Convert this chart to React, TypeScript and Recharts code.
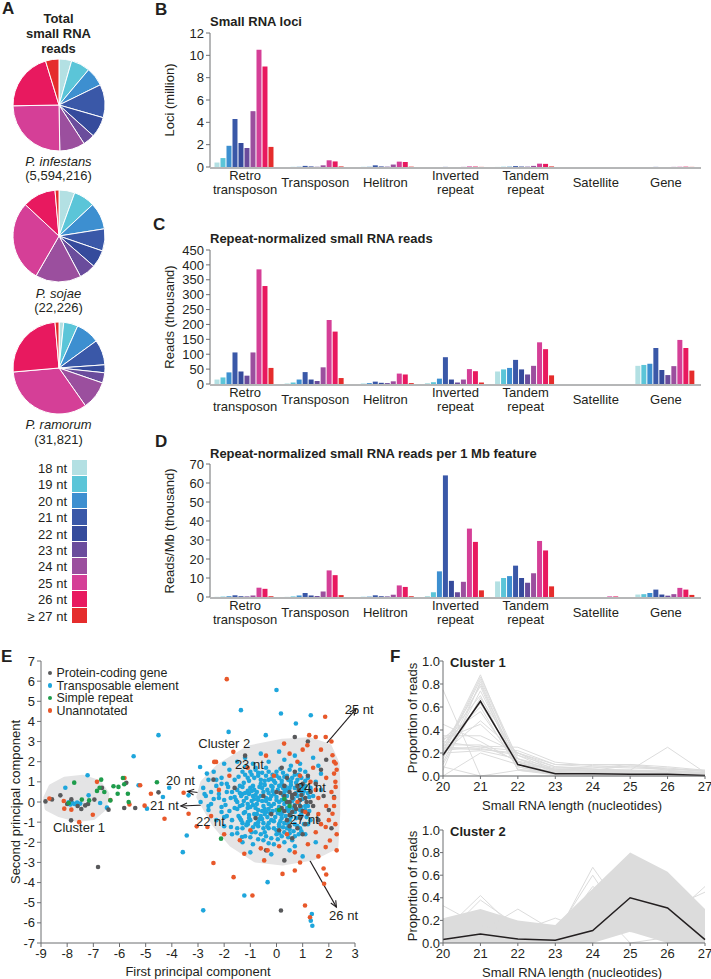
import React from 'react';
import {
  BarChart,
  Bar,
  XAxis,
  YAxis,
  PieChart,
  Pie,
  Cell,
  ScatterChart,
  Scatter,
  ReferenceLine,
  Line,
  ComposedChart,
  Area,
} from 'recharts';

const FONT = '"Liberation Sans", Arial, Helvetica, sans-serif';
const INK = '#231f20';
const AXIS = '#6d6e71';

// small RNA length classes, shared by A-D
const lengthLabels = ['18 nt', '19 nt', '20 nt', '21 nt', '22 nt', '23 nt', '24 nt', '25 nt', '26 nt', '≥ 27 nt'];
const lengthColors = ['#b3e0e3', '#5bc5d8', '#3d8fd0', '#3a58a8', '#354b9c', '#6a4c9c', '#9b4f9e', '#d53f97', '#e8195f', '#e52c2c'];

// A: share of total reads per length (18 .. >=27 nt)
const infestansShare = [16, 24, 24, 42, 26, 15, 32, 90, 74, 17];
const sojaeShare = [20, 27, 34, 28, 22, 21, 58, 103, 42, 5];
const ramorumShare = [6, 18, 30, 32, 10, 13, 36, 120, 90, 5];

// B-D: genomic features, one row per feature, one value per length class
const featureLabels = ['Retro\ntransposon', 'Transposon', 'Helitron', 'Inverted\nrepeat', 'Tandem\nrepeat', 'Satellite', 'Gene'];
const edgeTicks = [0, 1, 2, 3, 4, 5, 6, 7];

const lociMillion = [
  [0.4, 0.8, 1.9, 4.3, 2.15, 1.7, 5.0, 10.5, 9.0, 1.8],
  [0, 0.01, 0.02, 0.1, 0.05, 0.02, 0.15, 0.6, 0.5, 0.05],
  [0, 0.01, 0.02, 0.15, 0.05, 0.03, 0.22, 0.48, 0.45, 0.03],
  [0, 0, 0, 0.01, 0, 0, 0.01, 0.05, 0.04, 0.01],
  [0.01, 0.02, 0.03, 0.08, 0.04, 0.03, 0.1, 0.3, 0.28, 0.05],
  [0, 0, 0, 0, 0, 0, 0, 0, 0, 0],
  [0, 0, 0, 0.01, 0, 0, 0.01, 0.02, 0.03, 0.01],
];
const lociTicks = [0, 2, 4, 6, 8, 10, 12];

const readsThousand = [
  [15, 22, 39, 106, 42, 28, 106, 385, 329, 54],
  [2, 5, 15, 40, 15, 10, 56, 215, 176, 20],
  [0, 1, 3, 8, 4, 3, 9, 35, 32, 3],
  [3, 6, 18, 90, 15, 5, 15, 50, 43, 5],
  [42, 49, 54, 81, 49, 32, 61, 140, 117, 29],
  [0, 0, 0, 0, 0, 0, 0, 0, 0, 0],
  [61, 64, 68, 121, 47, 30, 60, 148, 121, 45],
];
const readsTicks = [0, 50, 100, 150, 200, 250, 300, 350, 400, 450];

const readsPerMb = [
  [0.1, 0.2, 0.4, 0.9, 0.4, 0.3, 0.8, 4.9, 4.3, 0.4],
  [0.1, 0.3, 0.8, 2.1, 0.8, 0.5, 2.9, 14, 11.5, 1.0],
  [0, 0.1, 0.2, 0.9, 0.4, 0.3, 1.2, 6.1, 5.3, 0.4],
  [0.5, 2.5, 13.5, 64, 8.5, 2.5, 8, 36, 29, 3.5],
  [8.2, 10, 11, 16.5, 10, 7.5, 12.5, 29.5, 24.5, 5.6],
  [0, 0, 0, 0, 0, 0, 0, 0.3, 0.3, 0],
  [1.3, 1.5, 2.1, 3.9, 1.3, 0.7, 1.5, 4.8, 3.9, 1.1],
];
const perMbTicks = [0, 10, 20, 30, 40, 50, 60, 70];

// E: principal component scores [PC1, PC2]
const pcXTicks = [-9, -8, -7, -6, -5, -4, -3, -2, -1, 0, 1, 2, 3];
const pcYTicks = [-7, -6, -5, -4, -3, -2, -1, 0, 1, 2, 3, 4, 5, 6, 7];

const transposable: [number, number][] = [
  [-8.07, 0.71], [-7.95, -0.02], [-7.88, -0.12], [-7.8, -0.05], [-7.72, -0.1], [-7.62, -0.03], [-7.5, -0.08],
  [-7.22, 1.33], [-7.18, 0.33], [-6.74, -0.05], [-6.48, -0.28], [-5.27, 0.83], [-5.46, 2.27], [-4.95, -0.33],
  [-4.51, 3.32], [-4.34, 0.25], [-4.1, 0.71], [-3.43, -1.66], [-3.58, -2.49], [-2.8, -5.38], [-2.92, 1.74],
  [-2.66, 1.41], [-3.36, 0.33],
  [0, 5.56], [-1.36, 4.56], [0.17, 4.39], [-1.83, 3.48], [-0.41, 3.32], [1.31, 4.31], [0.74, 3.9],
  [-0.34, -3.98], [-1.23, -4.64], [1.37, -6.14], [1.35, -5.56], [1.31, -5.89], [-1.32, -1.74], [-1.74, -1.24],
  [-0.6, 2.4], [0.1, 2.5], [0.7, 2.3], [1.4, 2.2], [-1.2, 2.2],
  [-2.0, 1.9], [-1.5, 2.0], [-0.9, 1.9], [-0.3, 2.0], [0.3, 2.1], [0.9, 1.9], [1.6, 1.8],
  [-2.4, 1.5], [-1.8, 1.6], [-1.3, 1.5], [-0.8, 1.6], [-0.4, 1.7], [0.0, 1.5], [0.5, 1.6], [1.1, 1.5], [1.7, 1.4],
  [-2.6, 1.1], [-2.1, 1.2], [-1.6, 1.1], [-1.1, 1.2], [-0.7, 1.3], [-0.3, 1.1], [0.1, 1.2], [0.4, 1.3], [0.8, 1.1], [1.2, 1.2], [1.5, 1.0],
  [-2.8, 0.7], [-2.3, 0.8], [-1.9, 0.9], [-1.4, 0.8], [-1.0, 0.7], [-0.6, 0.9], [-0.2, 0.8], [0.2, 0.9], [0.5, 0.7], [0.9, 0.8], [1.3, 0.7], [1.7, 0.6],
  [-2.7, 0.3], [-2.2, 0.4], [-1.7, 0.5], [-1.3, 0.4], [-0.9, 0.3], [-0.5, 0.5], [-0.1, 0.4], [0.3, 0.5], [0.6, 0.3], [1.0, 0.4], [1.4, 0.3], [-0.7, 0.2], [0.0, 0.1],
  [-2.9, 0.0], [-2.5, -0.1], [-2.0, 0.1], [-1.5, 0.0], [-1.1, -0.1], [-0.7, 0.1], [-0.3, -0.1], [0.1, 0.0], [0.5, -0.1], [0.9, 0.1], [1.2, -0.2], [-0.4, 0.2], [0.3, 0.2],
  [-2.6, -0.4], [-2.1, -0.5], [-1.6, -0.3], [-1.2, -0.5], [-0.8, -0.3], [-0.4, -0.5], [0.0, -0.4], [0.4, -0.3], [0.7, -0.5], [1.1, -0.4], [-0.2, -0.2], [0.2, -0.6],
  [-2.3, -0.9], [-1.9, -0.7], [-1.4, -0.8], [-1.0, -0.9], [-0.6, -0.7], [-0.2, -0.9], [0.2, -0.8], [0.5, -0.9], [0.9, -0.7], [1.3, -0.9],
  [-2.0, -1.2], [-1.5, -1.3], [-1.1, -1.1], [-0.7, -1.2], [-0.3, -1.3], [0.1, -1.1], [0.4, -1.3], [0.8, -1.2], [1.2, -1.1],
  [-1.7, -1.6], [-1.2, -1.7], [-0.8, -1.5], [-0.4, -1.7], [0.0, -1.6], [0.3, -1.5], [0.7, -1.7], [1.1, -1.6],
  [-1.3, -2.0], [-0.9, -2.1], [-0.5, -1.9], [-0.1, -2.1], [0.3, -2.0], [0.7, -2.2], [1.5, -2.0],
  [-1.0, -2.5], [-0.2, -2.6], [0.5, -2.4], [1.0, -2.7],
  [-0.95, 0.55], [-0.75, -0.6], [-0.55, 0.05], [-0.35, -0.75], [-0.15, 0.55], [0.05, -0.55], [0.25, 0.35], [0.45, -0.45],
  [0.65, 0.15], [0.85, -0.05], [-0.85, 0.15], [-0.65, 0.75], [-0.45, -0.35], [-0.25, 0.15], [-0.05, 0.95], [0.15, -0.95],
  [0.35, 0.75], [0.55, -0.75], [0.75, 0.95], [-1.05, -0.65], [-1.2, 0.45], [-1.4, -0.2], [-1.6, 0.25], [-1.8, -0.45],
  [1.05, 0.65], [1.25, 0.25], [-0.15, 1.35], [0.25, 1.45], [-0.55, 1.45], [0.6, 1.2], [-1.0, 1.5], [0.0, -1.4],
  [-0.5, -1.05], [0.5, -1.55], [-1.3, -1.05], [0.95, -1.45], [-2.4, 0.15], [-2.1, -0.25], [-1.9, 0.5], [-2.3, 1.1],
  [-1.45, 1.25], [-1.25, 0.95], [-1.05, 1.05], [-0.85, 1.2], [-0.6, 1.1], [-0.4, 1.3], [-0.2, 1.15], [0.0, 1.3],
  [0.2, 1.05], [0.45, 1.1], [0.7, 1.35], [0.95, 1.2], [-1.5, 0.6], [-1.3, 0.75], [-1.1, 0.55], [-0.9, 0.8],
  [-0.75, 0.5], [-0.55, 0.7], [-0.35, 0.6], [-0.15, 0.75], [0.05, 0.6], [0.25, 0.7], [0.45, 0.55], [0.7, 0.7],
  [0.9, 0.55], [1.1, 0.8], [-1.55, 0.1], [-1.35, 0.3], [-1.15, 0.2], [-0.95, 0.05], [-0.8, 0.35], [-0.6, 0.3],
  [-0.4, 0.05], [-0.2, 0.3], [0.0, 0.25], [0.2, 0.1], [0.4, 0.3], [0.6, 0.05], [0.8, 0.3], [1.0, 0.15], [1.2, 0.45],
  [-1.5, -0.35], [-1.3, -0.15], [-1.1, -0.3], [-0.9, -0.15], [-0.7, -0.4], [-0.5, -0.2], [-0.3, -0.35], [-0.1, -0.1],
  [0.1, -0.25], [0.3, -0.1], [0.5, -0.3], [0.7, -0.15], [0.9, -0.4], [1.1, -0.2], [-1.45, -0.7], [-1.25, -0.55],
  [-1.05, -0.8], [-0.85, -0.6], [-0.65, -0.85], [-0.45, -0.6], [-0.25, -0.55], [-0.05, -0.75], [0.15, -0.6],
  [0.35, -0.7], [0.55, -0.55], [0.75, -0.8], [0.95, -0.6], [1.15, -0.75], [-1.3, -1.3], [-1.1, -1.0], [-0.9, -1.25],
  [-0.7, -1.0], [-0.5, -1.3], [-0.3, -1.05], [-0.1, -1.3], [0.1, -1.2], [0.3, -1.05], [0.5, -1.35], [0.7, -1.1],
  [0.9, -1.3], [-1.0, -1.75], [-0.6, -1.6], [-0.2, -1.8], [0.2, -1.7], [0.6, -1.9], [0.85, -1.6], [-0.8, 1.7],
  [-0.3, 1.5], [0.15, 1.65], [0.55, 1.8], [-1.2, 1.75], [0.9, 1.6], [-1.75, 0.2], [-1.95, -0.15], [-2.2, 0.2],
  [-2.5, 0.5], [-2.6, -0.2], [-2.75, 0.4], [-1.7, -0.9], [-2.0, -0.75], [-1.85, 0.75], [-2.1, 0.9],
  [-1.2, 1.35], [-0.95, 1.35], [-0.7, 1.45], [-0.45, 1.05], [-0.1, 1.05], [0.3, 1.25], [0.55, 1.0], [0.85, 1.35],
  [1.1, 1.05], [-1.4, 0.45], [-1.05, 0.4], [-0.85, 0.6], [-0.45, 0.85], [-0.3, 0.45], [0.1, 0.8], [0.35, 0.6],
  [0.55, 0.85], [0.75, 0.45], [1.05, 0.55], [1.3, 0.55], [-1.25, 0.05], [-1.0, -0.25], [-0.75, -0.1], [-0.55, -0.45],
  [-0.15, -0.45], [0.2, -0.45], [0.35, 0.05], [0.65, -0.3], [0.95, -0.25], [1.25, -0.45], [-1.35, -0.9], [-1.15, -1.15],
  [-0.8, -1.1], [-0.55, -0.85], [-0.35, -1.2], [-0.1, -0.95], [0.25, -1.25], [0.45, -1.1], [0.65, -1.45], [1.05, -1.1],
  [-1.5, -1.55], [-0.95, -1.5], [-0.45, -1.5], [0.1, -1.55], [0.45, -1.75], [-0.7, -1.85], [-0.3, -2.05], [0.05, -1.85],
];

const proteinCoding: [number, number][] = [
  [-8.83, 0.03], [-8.58, 0.13], [-8.26, 0.33], [-7.84, 0.13], [-7.85, -0.91], [-7.46, -0.35], [-7.31, -0.17],
  [-6.96, 0.12], [-6.67, 0.7], [-6.42, -0.38], [-6.82, -3.23], [-5.82, -0.3], [-5.74, 0.95], [-5.4, -0.3],
  [-4.51, 0.48], [-2.41, 1.11], [-8.0, -0.1], [-7.6, -0.2], [-7.2, -0.1],
  [0.3, 0.3], [0.5, 0.0], [0.7, 0.4], [0.9, -0.2], [1.1, 0.2], [0.6, -0.5], [0.8, 0.8], [1.2, -0.6], [0.4, -0.9],
  [1.0, 0.9], [1.3, 0.5], [0.2, -0.3], [0.6, 0.2], [0.9, -0.8], [1.4, -0.2], [0.3, 0.8], [0.7, -0.2], [1.1, -1.1],
  [0.5, 0.5], [0.8, -1.3], [1.5, 0.9], [1.2, 1.3], [0.4, 1.2], [-0.2, -0.6], [-0.5, 0.3], [0.1, -1.4], [0.7, 1.5],
  [1.6, -0.9], [1.0, -1.6], [-0.8, -0.8], [0.6, -1.8], [0.2, 1.7], [1.8, 0.3], [2.0, -0.4], [1.7, 1.6], [-1.6, 0.7],
  [0.0, 0.5], [0.9, 0.1], [0.5, -1.2], [1.3, 0.0], [0.4, 0.0], [0.6, 0.35], [0.75, -0.35], [0.5, -0.65],
  [0.95, 0.35], [1.0, -0.45], [0.3, -0.45], [0.15, 0.45], [0.85, 0.6], [1.15, 0.0],
  [0.7, 3.23], [0.17, -5.39], [2.2, 0.25], [1.9, 2.1], [-0.4, -2.4], [1.2, 3.0], [-1.2, 2.3], [2.1, -1.3], [0.3, -2.9],
];

const simpleRepeat: [number, number][] = [
  [-7.73, 0.96], [-7.94, -0.05], [-7.44, 0.12], [-7.16, 0.08], [-6.86, 0.55], [-6.76, 0.71], [-6.7, 1.11],
  [-6.58, 0.5], [-6.23, 0.78], [-6.07, 0.41], [-6.04, 0.75], [-5.87, 1.19], [-5.82, 0.88], [-5.68, 0.41],
  [-5.65, 0.0], [-4.57, 0.98], [-6.35, 0.08], [-2.12, -1.82], [0.1, -0.4], [0.3, 0.15], [0.5, -0.2],
];

const unannotated: [number, number][] = [
  [-8.68, 0.17], [-8.13, 0.05], [-8.11, -0.33], [-7.84, -0.38], [-7.54, -1.0], [-7.02, -0.63], [-6.86, 1.0],
  [-6.35, 0.1], [-5.81, 1.19], [-5.62, -0.12], [-5.21, 0.83], [-5.04, -0.18], [-4.8, 0.41], [-4.28, -0.83],
  [-3.55, 0.46], [-3.36, -0.58], [-3.05, -1.21], [-2.41, -3.03], [-2.31, 1.99], [-2.64, -1.24],
  [-1.9, 6.1], [1.86, 4.23], [1.88, 3.23], [1.25, 3.32], [2.14, 2.32], [2.26, 1.91], [2.2, 1.41], [2.26, 0.75],
  [2.14, -0.58], [1.88, -1.24], [2.04, -1.91], [1.88, -2.24], [1.82, -4.06], [1.28, -5.72], [1.09, -5.14],
  [0.7, -3.4], [0.23, -3.57], [-0.92, -4.64], [-1.64, -3.73], [-1.65, 2.49], [-2.38, 1.99],
  [-0.47, -2.9], [-1.23, -2.57], [-0.34, -2.4], [0.29, 2.9], [1.18, 2.82], [1.5, 3.23],
  [0.8, 2.0], [1.4, 1.7], [1.9, 1.2], [2.2, 0.2], [1.6, 0.2], [1.9, -0.2], [2.0, -0.9], [1.5, -1.5], [1.2, -2.1],
  [0.7, -2.5], [0.1, -2.2], [-0.6, -2.3], [-1.4, -1.9], [-2.0, -1.6], [-2.5, -0.7], [-2.2, 0.6], [-1.8, 1.3],
  [-1.1, 1.7], [-0.4, 2.3], [0.5, 2.4], [1.0, 2.6], [1.7, 2.6], [2.3, 1.6], [2.3, -1.6], [2.3, -2.4], [1.6, -2.7],
  [0.9, -3.0], [1.8, -3.3], [1.9, -3.6], [2.1, 3.0], [1.1, -0.5], [0.9, 1.3], [1.6, -0.6], [1.3, 1.0], [0.4, -1.6],
  [-0.1, 1.3], [-1.0, -1.4], [2.1, 0.5], [1.7, -1.1], [1.5, 0.6], [0.8, 0.0], [2.25, 1.0], [2.2, -0.2], [2.25, -1.1],
  [2.2, 2.0],
];

// gray hulls behind the two clusters (outline in PC space)
const cluster1Hull: [number, number][] = [
  [-8.8, 0.2], [-8.6, 0.75], [-8.1, 1.1], [-7.4, 1.2], [-6.8, 0.95], [-6.5, 0.4], [-6.6, -0.3],
  [-7.0, -0.75], [-7.6, -0.85], [-8.3, -0.6], [-8.75, -0.3],
];
const cluster2Hull: [number, number][] = [
  [-2.95, 0.25], [-2.8, 0.95], [-2.2, 1.75], [-1.05, 2.66], [0.23, 2.99], [1.25, 3.07], [2.0, 2.75], [2.3, 1.9],
  [2.32, 1.0], [2.32, -0.6], [2.25, -2.2], [1.4, -2.75], [0.23, -3.0], [-0.8, -2.85], [-1.7, -2.1], [-2.35, -1.1],
];

// loading vectors (tips) and their labels
const loadings = [
  { name: '20 nt', tip: [-3.4, 0.53] },
  { name: '21 nt', tip: [-3.66, -0.2] },
  { name: '22 nt', tip: [-2.6, -0.55] },
  { name: '23 nt', tip: [-1.11, 1.54] },
  { name: '24 nt', tip: [0.67, 0.58] },
  { name: '25 nt', tip: [3.04, 4.62] },
  { name: '26 nt', tip: [2.29, -5.22] },
  { name: '27 nt', tip: [0.38, -0.66] },
];
const pcTexts = [
  { x: -4.22, y: 1.08, text: '20 nt', anchor: 'start' },
  { x: -3.73, y: -0.19, text: '21 nt', anchor: 'end' },
  { x: -3.08, y: -0.99, text: '22 nt', anchor: 'start' },
  { x: -1.59, y: 1.87, text: '23 nt', anchor: 'start' },
  { x: 0.78, y: 0.72, text: '24 nt', anchor: 'start' },
  { x: 2.61, y: 4.57, text: '25 nt', anchor: 'start' },
  { x: 2.01, y: -5.63, text: '26 nt', anchor: 'start' },
  { x: 0.51, y: -0.86, text: '27 nt', anchor: 'start' },
  { x: -8.54, y: -1.24, text: 'Cluster 1', anchor: 'start' },
  { x: -2.99, y: 2.91, text: 'Cluster 2', anchor: 'start' },
];

// F: length profiles of the loci in each cluster (20 .. 27 nt)
const profileLengths = [20, 21, 22, 23, 24, 25, 26, 27];
const profileTicks = [0, 0.2, 0.4, 0.6, 0.8, 1.0];
const cluster1Mean = [0.18, 0.65, 0.1, 0.02, 0.02, 0.015, 0.015, 0.005];
const cluster1Profiles = [
  [0.75, 0.0, 0.0, 0.0, 0.0, 0.0, 0.0, 0.0],
  [0.22, 0.88, 0.1, 0.02, 0.01, 0.01, 0.01, 0.0],
  [0.2, 0.86, 0.15, 0.03, 0.02, 0.02, 0.01, 0.01],
  [0.18, 0.84, 0.12, 0.02, 0.02, 0.01, 0.02, 0.01],
  [0.15, 0.8, 0.08, 0.02, 0.01, 0.01, 0.01, 0.0],
  [0.26, 0.78, 0.05, 0.01, 0.01, 0.01, 0.0, 0.0],
  [0.12, 0.74, 0.1, 0.03, 0.02, 0.02, 0.01, 0.01],
  [0.3, 0.7, 0.05, 0.02, 0.01, 0.01, 0.01, 0.0],
  [0.1, 0.68, 0.18, 0.04, 0.02, 0.02, 0.02, 0.01],
  [0.25, 0.63, 0.12, 0.02, 0.02, 0.02, 0.02, 0.02],
  [0.28, 0.6, 0.06, 0.02, 0.01, 0.01, 0.01, 0.01],
  [0.33, 0.56, 0.1, 0.03, 0.03, 0.02, 0.01, 0.0],
  [0.2, 0.48, 0.2, 0.05, 0.04, 0.04, 0.03, 0.02],
  [0.32, 0.45, 0.15, 0.04, 0.03, 0.03, 0.02, 0.02],
  [0.35, 0.35, 0.2, 0.08, 0.06, 0.05, 0.05, 0.03],
  [0.45, 0.3, 0.12, 0.05, 0.05, 0.04, 0.03, 0.02],
  [0.3, 0.25, 0.22, 0.1, 0.08, 0.07, 0.06, 0.04],
  [0.25, 0.24, 0.18, 0.08, 0.07, 0.1, 0.06, 0.05],
  [0.22, 0.26, 0.25, 0.12, 0.09, 0.08, 0.07, 0.04],
  [0.2, 0.22, 0.15, 0.07, 0.06, 0.05, 0.25, 0.03],
  [0.24, 0.23, 0.2, 0.1, 0.1, 0.1, 0.08, 0.05],
  [0.27, 0.27, 0.13, 0.06, 0.05, 0.09, 0.05, 0.02],
  [0.05, 0.82, 0.08, 0.01, 0.01, 0.01, 0.01, 0.0],
  [0.0, 0.2, 0.1, 0.06, 0.05, 0.05, 0.04, 0.03],
  [0.08, 0.0, 0.05, 0.05, 0.04, 0.05, 0.03, 0.02],
];

const cluster2Mean = [0.03, 0.08, 0.035, 0.025, 0.11, 0.4, 0.31, 0.03];
const cluster2Low = [0, 0, 0, 0, 0, 0.1, 0, 0];
const cluster2High = [0.22, 0.3, 0.2, 0.16, 0.48, 0.8, 0.63, 0.3];
const cluster2Profiles = [
  [0.33, 0.15, 0.1, 0.05, 0.1, 0.3, 0.2, 0.05],
  [0.1, 0.42, 0.1, 0.05, 0.1, 0.2, 0.1, 0.02],
  [0.05, 0.38, 0.15, 0.05, 0.15, 0.2, 0.1, 0.05],
  [0.15, 0.1, 0.3, 0.1, 0.2, 0.15, 0.1, 0.1],
  [0.1, 0.1, 0.1, 0.22, 0.1, 0.25, 0.2, 0.05],
  [0.05, 0.05, 0.05, 0.05, 0.67, 0.2, 0.1, 0.02],
  [0.02, 0.05, 0.05, 0.08, 0.6, 0.1, 0.1, 0.05],
  [0.05, 0.08, 0.05, 0.05, 0.5, 0.3, 0.15, 0.05],
  [0.05, 0.1, 0.05, 0.05, 0.1, 0.15, 0.2, 0.5],
  [0.05, 0.05, 0.05, 0.05, 0.1, 0.2, 0.3, 0.45],
  [0.1, 0.05, 0.05, 0.05, 0.35, 0.0, 0.05, 0.02],
  [0.05, 0.05, 0.05, 0.05, 0.15, 0.3, 0.0, 0.05],
];

const barKeys = lengthLabels.map((_, i) => `n${i}`);

const toFeatureRows = (table: number[][]) =>
  featureLabels.map((feature, ci) => {
    const row: Record<string, any> = { feature };
    table[ci].forEach((v, li) => (row[barKeys[li]] = v));
    return row;
  });

const toPoints = (arr: [number, number][]) => arr.map(([x, y]) => ({ x, y }));

type TProps = {
  x: number;
  y: number;
  size?: number;
  bold?: boolean;
  italic?: boolean;
  align?: 'left' | 'center' | 'right';
  rotate?: boolean;
  children: React.ReactNode;
};

// text placed by its vertical centre
const T = ({ x, y, size = 13, bold, italic, align = 'left', rotate, children }: TProps) => {
  const tx = align === 'center' ? '-50%' : align === 'right' ? '-100%' : '0';
  return (
    <div
      style={{
        position: 'absolute',
        left: x,
        top: y,
        fontSize: size,
        fontWeight: bold ? 700 : 400,
        fontStyle: italic ? 'italic' : 'normal',
        lineHeight: 1,
        whiteSpace: 'nowrap',
        color: INK,
        transform: rotate ? 'translate(-50%,-50%) rotate(-90deg)' : `translate(${tx},-50%)`,
      }}
    >
      {children}
    </div>
  );
};

const FeatureTick = (props: any) => {
  const { x, y, payload } = props;
  const lines = String(payload.value).split('\n');
  return (
    <text x={x} y={y} textAnchor="middle" fill={INK} fontSize={13}>
      {lines.length === 1 ? (
        <tspan x={x} dy={19.5}>
          {lines[0]}
        </tspan>
      ) : (
        lines.map((l, i) => (
          <tspan key={i} x={x} dy={i === 0 ? 12.5 : 14}>
            {l}
          </tspan>
        ))
      )}
    </text>
  );
};

type FeatureBarsProps = {
  table: number[][];
  ticks: number[];
  top: number;
  height: number;
  plotTop: number;
  plotBottom: number;
};

const FeatureBars = ({ table, ticks, top, height, plotTop, plotBottom }: FeatureBarsProps) => {
  const data = toFeatureRows(table);
  return (
    <div style={{ position: 'absolute', left: 150, top }}>
      <BarChart
        width={561}
        height={height}
        data={data}
        margin={{ top: plotTop, right: 10, bottom: height - plotBottom - 2, left: 25 }}
        barCategoryGap="6.4%"
        barGap={1}
      >
        <XAxis
          xAxisId="edge"
          type="number"
          domain={[0, 7]}
          ticks={edgeTicks}
          allowDataOverflow
          tick={false}
          tickSize={4}
          height={1}
          axisLine={{ stroke: AXIS }}
          tickLine={{ stroke: AXIS }}
        />
        <XAxis
          xAxisId="cat"
          dataKey="feature"
          type="category"
          height={1}
          tickSize={0}
          tickMargin={0}
          axisLine={false}
          tickLine={false}
          interval={0}
          tick={<FeatureTick />}
        />
        <YAxis
          domain={[ticks[0], ticks[ticks.length - 1]]}
          ticks={ticks}
          interval={0}
          width={35}
          tickSize={4}
          axisLine={{ stroke: AXIS }}
          tickLine={{ stroke: AXIS }}
          tick={{ fill: INK, fontSize: 13 }}
        />
        {barKeys.map((k, i) => (
          <Bar key={k} xAxisId="cat" dataKey={k} fill={lengthColors[i]} isAnimationActive={false} />
        ))}
      </BarChart>
    </div>
  );
};

const SpeciesPie = ({ shares, top }: { shares: number[]; top: number }) => {
  const data = shares.map((value, i) => ({ name: lengthLabels[i], value }));
  return (
    <div style={{ position: 'absolute', left: 7.5, top }}>
      <PieChart width={102} height={102} margin={{ top: 0, right: 0, bottom: 0, left: 0 }}>
        <Pie
          data={data}
          dataKey="value"
          cx="50%"
          cy="50%"
          outerRadius={46}
          startAngle={90}
          endAngle={-270}
          stroke="#ffffff"
          strokeWidth={1}
          isAnimationActive={false}
        >
          {data.map((d, i) => (
            <Cell key={d.name} fill={lengthColors[i]} />
          ))}
        </Pie>
      </PieChart>
    </div>
  );
};

const dot = (color: string) => (p: any) => <circle cx={p.cx} cy={p.cy} r={2.3} fill={color} />;
const noDot = () => <g />;
const hullShape = (p: any) => {
  const pts: { x: number; y: number }[] = p.points || [];
  if (!pts.length) return <g />;
  const d = 'M' + pts.map((q) => `${q.x},${q.y}`).join('L') + 'Z';
  return <path d={d} fill="#e4e4e5" stroke="#e4e4e5" strokeWidth={6} strokeLinejoin="round" />;
};
const labelShape = (p: any) => (
  <text x={p.cx} y={p.cy} dy="0.35em" textAnchor={p.payload.anchor} fontSize={13} fill={INK}>
    {p.payload.text}
  </text>
);
const arrowShape = (p: any) => {
  const { x1, y1, x2, y2 } = p;
  const a = Math.atan2(y2 - y1, x2 - x1);
  const h = 7;
  const w = 0.42;
  const ax = x2 - h * Math.cos(a - w);
  const ay = y2 - h * Math.sin(a - w);
  const bx = x2 - h * Math.cos(a + w);
  const by = y2 - h * Math.sin(a + w);
  return (
    <g>
      <line x1={x1} y1={y1} x2={x2} y2={y2} stroke={INK} strokeWidth={1.1} />
      <path d={`M${ax},${ay}L${x2},${y2}L${bx},${by}`} fill="none" stroke={INK} strokeWidth={1.1} />
    </g>
  );
};

const pcLegend = [
  { name: 'Protein-coding gene', color: '#58595b' },
  { name: 'Transposable element', color: '#1ea6dc' },
  { name: 'Simple repeat', color: '#1e9c4b' },
  { name: 'Unannotated', color: '#e8582a' },
];

const PcaPlot = () => (
  <div style={{ position: 'absolute', left: 0, top: 640 }}>
    <ScatterChart width={380} height={339} margin={{ top: 21, right: 25, bottom: 0, left: 11 }}>
      <XAxis
        type="number"
        dataKey="x"
        domain={[-9, 3]}
        ticks={pcXTicks}
        interval={0}
        height={36}
        tickSize={4}
        axisLine={{ stroke: AXIS }}
        tickLine={{ stroke: AXIS }}
        tick={{ fill: INK, fontSize: 13 }}
      />
      <YAxis
        type="number"
        dataKey="y"
        domain={[-7, 7]}
        ticks={pcYTicks}
        interval={0}
        width={30}
        tickSize={4}
        axisLine={{ stroke: AXIS }}
        tickLine={{ stroke: AXIS }}
        tick={{ fill: INK, fontSize: 13 }}
      />
      <Scatter data={toPoints(cluster1Hull)} shape={noDot} line={hullShape} isAnimationActive={false} />
      <Scatter data={toPoints(cluster2Hull)} shape={noDot} line={hullShape} isAnimationActive={false} />
      <Scatter data={toPoints(transposable)} shape={dot(pcLegend[1].color)} isAnimationActive={false} />
      <Scatter data={toPoints(proteinCoding)} shape={dot(pcLegend[0].color)} isAnimationActive={false} />
      <Scatter data={toPoints(unannotated)} shape={dot(pcLegend[3].color)} isAnimationActive={false} />
      <Scatter data={toPoints(simpleRepeat)} shape={dot(pcLegend[2].color)} isAnimationActive={false} />
      {loadings.map((l) => (
        <ReferenceLine
          key={l.name}
          segment={[
            { x: 0, y: 0 },
            { x: l.tip[0], y: l.tip[1] },
          ]}
          ifOverflow="visible"
          shape={arrowShape}
        />
      ))}
      <Scatter data={pcTexts} shape={labelShape} isAnimationActive={false} />
    </ScatterChart>
  </div>
);

type ProfileProps = {
  top: number;
  height: number;
  plotTop: number;
  plotBottom: number;
  mean: number[];
  profiles: number[][];
  low?: number[];
  high?: number[];
};

const ProfilePlot = ({ top, height, plotTop, plotBottom, mean, profiles, low, high }: ProfileProps) => {
  const data = profileLengths.map((len, i) => {
    const row: Record<string, any> = { len, mean: mean[i] };
    profiles.forEach((p, j) => (row[`p${j}`] = p[i]));
    if (low && high) row.band = [low[i], high[i]];
    return row;
  });
  return (
    <div style={{ position: 'absolute', left: 400, top }}>
      <ComposedChart
        width={311}
        height={height}
        data={data}
        margin={{ top: plotTop, right: 6, bottom: 0, left: 0 }}
      >
        <XAxis
          type="number"
          dataKey="len"
          domain={[20, 27]}
          ticks={profileLengths}
          interval={0}
          height={height - plotBottom}
          tickSize={3}
          tickMargin={3}
          axisLine={{ stroke: AXIS }}
          tickLine={{ stroke: AXIS }}
          tick={{ fill: INK, fontSize: 13 }}
        />
        <YAxis
          domain={[0, 1]}
          ticks={profileTicks}
          interval={0}
          width={43}
          tickSize={3}
          tickMargin={0}
          tickFormatter={(v: number) => v.toFixed(1)}
          axisLine={{ stroke: AXIS }}
          tickLine={{ stroke: AXIS }}
          tick={{ fill: INK, fontSize: 13 }}
        />
        {low && high ? (
          <Area dataKey="band" stroke="none" fill="#dcdcdc" fillOpacity={1} isAnimationActive={false} />
        ) : null}
        {profiles.map((_, j) => (
          <Line
            key={j}
            dataKey={`p${j}`}
            stroke="#dcdcdc"
            strokeWidth={1}
            dot={false}
            isAnimationActive={false}
          />
        ))}
        <Line dataKey="mean" stroke={INK} strokeWidth={1.5} dot={false} isAnimationActive={false} />
      </ComposedChart>
    </div>
  );
};

export default function App() {
  return (
    <div
      style={{
        position: 'absolute',
        left: 0,
        top: 0,
        width: 711,
        height: 979,
        background: '#ffffff',
        fontFamily: FONT,
        color: INK,
        overflow: 'hidden',
      }}
    >
      {/* A */}
      <T x={2} y={8} size={17} bold>A</T>
      <T x={58.5} y={18} bold align="center">Total</T>
      <T x={58.5} y={33} bold align="center">small RNA</T>
      <T x={58.5} y={48} bold align="center">reads</T>
      <SpeciesPie shares={infestansShare} top={54} />
      <T x={58.5} y={161} italic align="center">P. infestans</T>
      <T x={58.5} y={175} align="center">(5,594,216)</T>
      <SpeciesPie shares={sojaeShare} top={185} />
      <T x={58.5} y={293} italic align="center">P. sojae</T>
      <T x={58.5} y={307} align="center">(22,226)</T>
      <SpeciesPie shares={ramorumShare} top={317} />
      <T x={58.5} y={424} italic align="center">P. ramorum</T>
      <T x={58.5} y={439} align="center">(31,821)</T>
      {lengthLabels.map((l, i) => (
        <React.Fragment key={l}>
          <T x={67} y={468 + i * 16.4} align="right">{l}</T>
          <div
            style={{
              position: 'absolute',
              left: 72,
              top: 460 + i * 16.4,
              width: 15,
              height: 15.4,
              background: lengthColors[i],
            }}
          />
        </React.Fragment>
      ))}

      {/* B */}
      <T x={155} y={9} size={17} bold>B</T>
      <T x={210} y={21} bold>Small RNA loci</T>
      <T x={169} y={100} rotate>Loci (million)</T>
      <FeatureBars table={lociMillion} ticks={lociTicks} top={0} height={205} plotTop={33} plotBottom={167} />

      {/* C */}
      <T x={153} y={224} size={17} bold>C</T>
      <T x={210} y={237.5} bold>Repeat-normalized small RNA reads</T>
      <T x={169} y={317} rotate>Reads (thousand)</T>
      <FeatureBars table={readsThousand} ticks={readsTicks} top={200} height={220} plotTop={50} plotBottom={184} />

      {/* D */}
      <T x={155} y={441} size={17} bold>D</T>
      <T x={210} y={452.5} bold>Repeat-normalized small RNA reads per 1 Mb feature</T>
      <T x={169} y={531} rotate>Reads/Mb (thousand)</T>
      <FeatureBars table={readsPerMb} ticks={perMbTicks} top={420} height={212} plotTop={44} plotBottom={177} />

      {/* E */}
      <T x={1} y={656} size={17} bold>E</T>
      <PcaPlot />
      <T x={15} y={802} rotate>Second principal component</T>
      <T x={198} y={971} align="center">First principal component</T>
      {pcLegend.map((l, i) => (
        <React.Fragment key={l.name}>
          <div
            style={{
              position: 'absolute',
              left: 48,
              top: 670.7 + i * 12.5,
              width: 4.4,
              height: 4.4,
              borderRadius: '50%',
              background: l.color,
            }}
          />
          <T x={56.5} y={673 + i * 12.5} size={12.4}>{l.name}</T>
        </React.Fragment>
      ))}

      {/* F */}
      <T x={390} y={656} size={17} bold>F</T>
      <ProfilePlot top={650} height={160} plotTop={11} plotBottom={126} mean={cluster1Mean} profiles={cluster1Profiles} />
      <T x={450} y={662} bold>Cluster 1</T>
      <T x={412} y={718} rotate>Proportion of reads</T>
      <T x={572} y={805} align="center">Small RNA length (nucleotides)</T>
      <ProfilePlot
        top={820}
        height={159}
        plotTop={10}
        plotBottom={123}
        mean={cluster2Mean}
        profiles={cluster2Profiles}
        low={cluster2Low}
        high={cluster2High}
      />
      <T x={450} y={831} bold>Cluster 2</T>
      <T x={412} y={886} rotate>Proportion of reads</T>
      <T x={572} y={972} align="center">Small RNA length (nucleotides)</T>
    </div>
  );
}
